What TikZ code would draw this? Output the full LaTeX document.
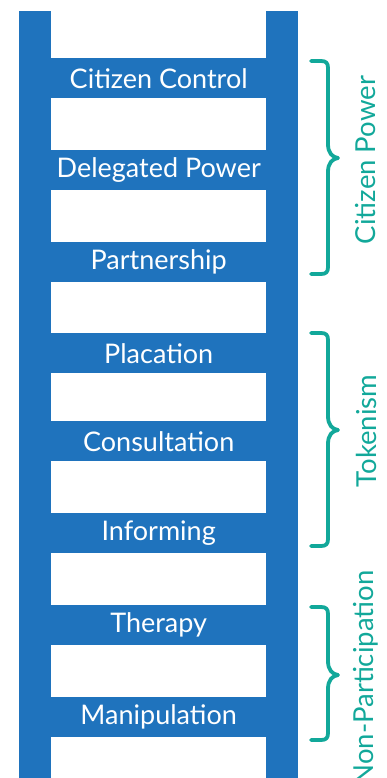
\documentclass[tikz,border=0pt]{standalone}
\usepackage{fontspec}
\setmainfont{Lato}
\definecolor{ladderblue}{HTML}{1F73BD}
\definecolor{braceteal}{HTML}{12A89A}
\tikzset{
  rail/.style={fill=ladderblue, draw=none},
  rung/.style={fill=ladderblue, draw=none, anchor=north west, minimum width=215pt, minimum height=40pt, inner sep=0pt, text=white, font=\fontsize{27}{27}\selectfont},
  bracepath/.style={draw=braceteal, line width=3.8pt, line cap=round, line join=round},
  grouplabel/.style={text=braceteal, rotate=90, font=\fontsize{27.5}{27.5}\selectfont, inner sep=0pt},
}
\begin{document}
\begin{tikzpicture}[x=1pt,y=-1pt]
\useasboundingbox (0,0) rectangle (387,778);
% rails
\fill[rail] (19,11) rectangle (51,790);
\fill[rail] (266,11) rectangle (298,790);
% rungs
\node[rung] (r1) at (51,58)  {Citizen Control};
\node[rung] (r2) at (51,150) {Delegated Power};
\node[rung] (r3) at (51,242) {Partnership};
\node[rung] (r4) at (51,333) {Placation};
\node[rung] (r5) at (51,421) {Consultation};
\node[rung] (r6) at (51,513) {Informing};
\node[rung] (r7) at (51,605) {Therapy};
\node[rung] (r8) at (51,697) {Manipulation};
% braces
\foreach \ya/\yt/\yb/\nm in {61/158/274/bA, 333/430/546/bB, 607/675/740/bC}{
  \draw[bracepath] (311,\ya) -- (321,\ya) .. controls (326,\ya) and (328,\ya+2) .. (328,\ya+7)
    -- (328,\yt-14) .. controls (328,\yt-5) and (332,\yt-1) .. (338,\yt)
    .. controls (332,\yt+1) and (328,\yt+5) .. (328,\yt+14)
    -- (328,\yb-7) .. controls (328,\yb-2) and (326,\yb) .. (321,\yb) -- (311,\yb);
  \coordinate (\nm) at (338,\yt);
}
\node[grouplabel] (gA) at (366,160) {Citizen Power};
\node[grouplabel] (gB) at (366,431) {Tokenism};
\node[grouplabel] (gC) at (366,678) {Non-Participation};
\end{tikzpicture}
\end{document}
